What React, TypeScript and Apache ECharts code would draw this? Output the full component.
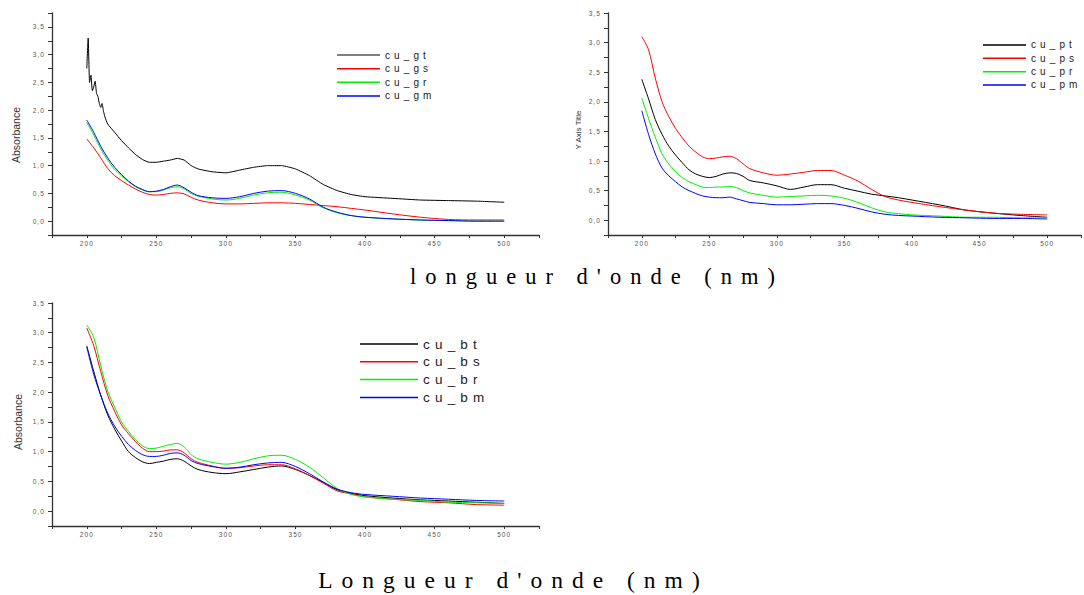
import React, { useEffect, useRef } from "react";
import * as echarts from "echarts";

// Wavelengths (nm)
const W = [200, 205, 210, 215, 220, 225, 230, 235, 240, 245, 250, 255, 260, 265, 270, 275, 280, 290, 300, 310, 320, 330, 340, 350, 360, 370, 380, 390, 400, 420, 440, 460, 480, 500];
const W_GT = [200, 201, 202, 203, 204, 205, 206, 207, 208, 209, 210, 211, 212, 213, 215, 220, 225, 230, 235, 240, 245, 250, 255, 260, 265, 270, 275, 280, 290, 300, 310, 320, 330, 340, 350, 360, 370, 380, 390, 400, 420, 440, 460, 480, 500];

// Top-left panel (g)
const cu_gt = [2.75, 3.3, 2.5, 2.63, 2.35, 2.42, 2.52, 2.3, 2.25, 2.12, 2.05, 2.12, 1.98, 1.88, 1.75, 1.6, 1.45, 1.32, 1.2, 1.11, 1.06, 1.06, 1.08, 1.1, 1.13, 1.1, 1.0, 0.94, 0.89, 0.87, 0.92, 0.97, 1.0, 1.0, 0.94, 0.82, 0.66, 0.55, 0.48, 0.44, 0.41, 0.38, 0.37, 0.36, 0.34];
const cu_gs = [1.48, 1.32, 1.14, 0.95, 0.82, 0.73, 0.65, 0.58, 0.52, 0.48, 0.47, 0.48, 0.5, 0.51, 0.49, 0.43, 0.38, 0.33, 0.31, 0.31, 0.32, 0.33, 0.33, 0.32, 0.3, 0.28, 0.26, 0.23, 0.2, 0.13, 0.07, 0.03, 0.02, 0.02];
const cu_gr = [1.78, 1.55, 1.3, 1.1, 0.93, 0.82, 0.71, 0.62, 0.56, 0.53, 0.53, 0.56, 0.6, 0.62, 0.58, 0.5, 0.45, 0.4, 0.38, 0.41, 0.47, 0.51, 0.52, 0.47, 0.38, 0.24, 0.15, 0.1, 0.07, 0.04, 0.02, 0.01, 0.0, 0.0];
const cu_gm = [1.82, 1.6, 1.35, 1.14, 0.97, 0.84, 0.72, 0.63, 0.57, 0.53, 0.54, 0.57, 0.62, 0.65, 0.6, 0.52, 0.46, 0.42, 0.41, 0.44, 0.5, 0.54, 0.55, 0.5, 0.4, 0.25, 0.16, 0.1, 0.07, 0.04, 0.02, 0.01, 0.0, 0.0];

// Top-right panel (p)
const cu_pt = [2.38, 2.05, 1.7, 1.45, 1.25, 1.1, 0.97, 0.85, 0.78, 0.74, 0.72, 0.74, 0.78, 0.8, 0.79, 0.74, 0.67, 0.63, 0.58, 0.52, 0.56, 0.6, 0.6, 0.54, 0.49, 0.44, 0.41, 0.38, 0.34, 0.26, 0.17, 0.12, 0.08, 0.05];
const cu_ps = [3.1, 2.88, 2.4, 2.0, 1.75, 1.55, 1.39, 1.25, 1.15, 1.07, 1.04, 1.05, 1.07, 1.08, 1.04, 0.95, 0.87, 0.8, 0.76, 0.78, 0.81, 0.84, 0.84, 0.76, 0.66, 0.52, 0.4, 0.34, 0.3, 0.23, 0.17, 0.12, 0.1, 0.09];
const cu_pr = [2.06, 1.72, 1.4, 1.12, 0.95, 0.82, 0.72, 0.65, 0.6, 0.56, 0.55, 0.56, 0.56, 0.57, 0.55, 0.5, 0.46, 0.42, 0.39, 0.4, 0.41, 0.42, 0.41, 0.37, 0.3, 0.21, 0.14, 0.11, 0.09, 0.07, 0.05, 0.05, 0.04, 0.04];
const cu_pm = [1.85, 1.45, 1.12, 0.88, 0.75, 0.65, 0.56, 0.5, 0.45, 0.41, 0.39, 0.38, 0.38, 0.39, 0.36, 0.33, 0.3, 0.28, 0.26, 0.26, 0.27, 0.28, 0.28, 0.25, 0.2, 0.14, 0.1, 0.08, 0.07, 0.05, 0.04, 0.03, 0.03, 0.02];

// Bottom panel (b)
const cu_bt = [2.78, 2.35, 1.95, 1.62, 1.38, 1.18, 1.0, 0.9, 0.83, 0.8, 0.82, 0.84, 0.87, 0.88, 0.84, 0.76, 0.7, 0.65, 0.63, 0.66, 0.7, 0.74, 0.76, 0.7, 0.6, 0.48, 0.36, 0.3, 0.26, 0.22, 0.19, 0.17, 0.15, 0.13];
const cu_bs = [3.08, 2.78, 2.35, 1.95, 1.68, 1.45, 1.3, 1.17, 1.06, 1.0, 1.0, 1.01, 1.03, 1.03, 0.98, 0.88, 0.82, 0.76, 0.72, 0.73, 0.76, 0.78, 0.78, 0.71, 0.6, 0.47, 0.34, 0.29, 0.24, 0.2, 0.16, 0.14, 0.11, 0.1];
const cu_br = [3.13, 2.92, 2.45, 2.02, 1.75, 1.5, 1.34, 1.2, 1.1, 1.05, 1.06, 1.09, 1.12, 1.14, 1.08, 0.95, 0.88, 0.82, 0.79, 0.82, 0.88, 0.93, 0.94, 0.87, 0.74, 0.56, 0.38, 0.28, 0.24, 0.2, 0.18, 0.15, 0.14, 0.13];
const cu_bm = [2.76, 2.3, 1.95, 1.65, 1.43, 1.26, 1.12, 1.02, 0.95, 0.92, 0.92, 0.94, 0.97, 0.98, 0.94, 0.85, 0.8, 0.75, 0.72, 0.74, 0.78, 0.81, 0.82, 0.75, 0.63, 0.49, 0.37, 0.31, 0.28, 0.25, 0.22, 0.2, 0.18, 0.17];

const X_LABELS = [200, 250, 300, 350, 400, 450, 500];
const Y_LABELS = [0, 0.5, 1, 1.5, 2, 2.5, 3, 3.5];

const NAMES_G = ["cu_gt", "cu_gs", "cu_gr", "cu_gm"];
const NAMES_P = ["cu_pt", "cu_ps", "cu_pr", "cu_pm"];
const NAMES_B = ["cu_bt", "cu_bs", "cu_br", "cu_bm"];
const COLORS = ["#000000", "#ff0000", "#00ee00", "#0000ff"];

const TITLE_1 = "longueur d'onde (nm)";
const TITLE_2 = "Longueur d'onde (nm)";
const Y_TITLE_1 = "Absorbance";
const Y_TITLE_2 = "Y Axis Title";
const Y_TITLE_3 = "Absorbance";

const zip = (xs: number[], ys: number[]) => xs.map((x, i) => [x, ys[i]]);

const tickFont = "Liberation Sans";

const mkX = (gridIndex: number) => ({
  type: "value",
  gridIndex,
  min: 175,
  max: 525,
  interval: 25,
  axisLine: { show: true, onZero: false, lineStyle: { color: "#333", width: 1.3 } },
  axisTick: { show: true, length: 3, lineStyle: { color: "#333", width: 1 } },
  axisLabel: {
    fontSize: 6.5,
    fontFamily: tickFont,
    color: "#555",
    margin: 5,
    formatter: (v: number) => (X_LABELS.includes(v) ? String(v) : ""),
  },
  splitLine: { show: false },
});

const mkY = (gridIndex: number, max: number) => ({
  type: "value",
  gridIndex,
  min: -0.25,
  max,
  interval: 0.25,
  axisLine: { show: true, onZero: false, lineStyle: { color: "#333", width: 1.3 } },
  axisTick: { show: true, length: 4, lineStyle: { color: "#333", width: 1 } },
  axisLabel: {
    fontSize: 6.5,
    fontFamily: tickFont,
    color: "#555",
    margin: 7,
    formatter: (v: number) => {
      const hit = Y_LABELS.find((l) => Math.abs(l - v) < 1e-6);
      return hit === undefined ? "" : hit.toFixed(1).replace(".", ",");
    },
  },
  splitLine: { show: false },
});

const mkSeries = (names: string[], xs: number[][], vals: number[][], axis: number) =>
  names.map((name, i) => ({
    type: "line",
    name,
    xAxisIndex: axis,
    yAxisIndex: axis,
    data: zip(xs[i], vals[i]),
    symbol: "none",
    showSymbol: false,
    smooth: i === 0 && axis === 0 ? 0.15 : 0.3,
    lineStyle: { color: COLORS[i], width: 1 },
    itemStyle: { color: i === 0 && axis === 0 ? "#555" : COLORS[i] },
  }));

const mkLegend = (names: string[], left: number, top: number, itemWidth: number, fontSize: number, lineHeight: number) => ({
  data: names,
  orient: "vertical",
  left,
  top,
  padding: 0,
  itemGap: 0,
  itemWidth,
  itemHeight: 1.5,
  icon: "rect",
  selectedMode: false,
  textStyle: { fontSize, lineHeight, fontFamily: "Liberation Sans", color: "#222" },
});

const vText = (text: string, x: number, y: number, fontSize: number) => ({
  type: "text",
  x,
  y,
  rotation: Math.PI / 2,
  style: {
    text,
    fill: "#333",
    fontSize,
    fontFamily: "Liberation Sans",
    align: "center",
    verticalAlign: "middle",
    textAlign: "center",
    textVerticalAlign: "middle",
  },
});

const hText = (text: string, x: number, y: number, fontSize: number) => ({
  type: "text",
  x,
  y,
  style: {
    text,
    fill: "#000",
    fontSize,
    fontFamily: "Liberation Serif",
    align: "center",
    verticalAlign: "middle",
    textAlign: "center",
    textVerticalAlign: "middle",
  },
});

const option = {
  animation: false,
  backgroundColor: "#fff",
  grid: [
    { left: 52, top: 13, width: 487, height: 222 },
    { left: 608, top: 13, width: 487, height: 222 },
    { left: 52, top: 303, width: 487, height: 223 },
  ],
  xAxis: [mkX(0), mkX(1), mkX(2)],
  yAxis: [mkY(0, 3.75), mkY(1, 3.5), mkY(2, 3.5)],
  legend: [
    mkLegend(NAMES_G, 337, 48.3, 43, 10, 13.6),
    mkLegend(NAMES_P, 983, 38.3, 43, 10, 13.33),
    mkLegend(NAMES_B, 360, 335.1, 58, 13.5, 17.8),
  ],
  series: [
    ...mkSeries(NAMES_G, [W_GT, W, W, W], [cu_gt, cu_gs, cu_gr, cu_gm], 0),
    ...mkSeries(NAMES_P, [W, W, W, W], [cu_pt, cu_ps, cu_pr, cu_pm], 1),
    ...mkSeries(NAMES_B, [W, W, W, W], [cu_bt, cu_bs, cu_br, cu_bm], 2),
  ],
  graphic: [
    vText(Y_TITLE_1, 15.5, 135, 10.5),
    vText(Y_TITLE_2, 578.5, 130, 8),
    vText(Y_TITLE_3, 18, 422, 10.5),
    hText(TITLE_1, 597, 276, 22.5),
    hText(TITLE_2, 513.5, 580, 23.5),
  ],
};

const css = `
text[style*="22.5px"], text[style*="23.5px"] { letter-spacing: 9px; }
text[style*="font-size:10px"], text[style*=" 10px"] { letter-spacing: 4.1px; }
text[style*="13.5px"] { letter-spacing: 5.2px; }
text[style*="6.5px"] { letter-spacing: 1.1px; }
`;

export default function App() {
  const ref = useRef<HTMLDivElement>(null);
  useEffect(() => {
    if (!ref.current) return;
    const chart = echarts.init(ref.current, null, { renderer: "svg" });
    chart.setOption(option as any);
    return () => chart.dispose();
  }, []);
  return (
    <>
      <style>{css}</style>
      <div
        ref={ref}
        style={{ position: "absolute", left: 0, top: 0, width: 1084, height: 595, background: "#fff" }}
      />
    </>
  );
}
